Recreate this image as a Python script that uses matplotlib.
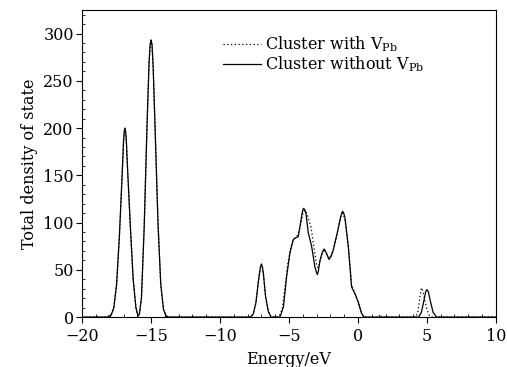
import matplotlib
matplotlib.use('Agg')
import matplotlib.pyplot as plt
from matplotlib.ticker import MultipleLocator

plt.rcParams['font.family'] = 'DejaVu Serif'
plt.rcParams['mathtext.fontset'] = 'dejavuserif'

# energy (eV) and total DOS
e_without = [-20.0, -18.2, -17.9, -17.7, -17.5, -17.3, -17.1, -17.0, -16.95, -16.9, -16.85, -16.8,
             -16.7, -16.5, -16.3, -16.1, -15.95, -15.85, -15.7, -15.5, -15.3, -15.15, -15.07,
             -15.0, -14.93, -14.85, -14.7, -14.5, -14.3, -14.1, -13.9, -13.7,
             -7.8, -7.6, -7.4, -7.2, -7.07, -7.0, -6.93, -6.85, -6.7, -6.5, -6.3,
             -5.65, -5.4, -5.17, -4.93, -4.69, -4.5, -4.33, -4.2, -4.05, -3.96, -3.87, -3.77,
             -3.6, -3.36, -3.12, -3.0, -2.95, -2.88, -2.75, -2.6, -2.46, -2.3, -2.1, -1.95,
             -1.79, -1.5, -1.25, -1.17, -1.11, -1.03, -0.94, -0.7, -0.46, -0.3, -0.22, 0.02,
             0.27, 0.43,
             4.4, 4.6, 4.75, 4.9, 4.95, 5.0, 5.05, 5.1, 5.25, 5.45, 5.7, 10.0]
dos_without = [0, 0, 2, 10, 35, 85, 150, 185, 196, 200, 196, 188,
               155, 95, 40, 10, 1, 3, 20, 95, 200, 268, 288,
               293, 288, 265, 195, 100, 35, 8, 1, 0,
               0, 3, 15, 40, 53, 56, 53, 45, 22, 6, 0,
               0, 11, 43, 68, 82, 84, 85, 96, 110, 115, 114, 110,
               89, 75, 53, 47, 45, 48, 60, 68, 72, 68, 61, 64,
               71, 89, 106, 110, 112, 110, 105, 75, 32, 27, 25, 16,
               4, 0,
               0, 5, 15, 26, 28, 29, 28, 27, 17, 5, 0, 0]

e_with = [-20.0, -18.2, -17.9, -17.7, -17.5, -17.3, -17.1, -17.0, -16.95, -16.9, -16.85, -16.8,
          -16.7, -16.5, -16.3, -16.1, -15.95, -15.85, -15.7, -15.5, -15.3, -15.15, -15.07,
          -15.0, -14.93, -14.85, -14.7, -14.5, -14.3, -14.1, -13.9, -13.7,
          -7.8, -7.6, -7.4, -7.2, -7.07, -7.0, -6.93, -6.85, -6.7, -6.5, -6.3,
          -5.75, -5.5, -5.3, -5.1, -4.9, -4.7, -4.4, -4.2, -3.95, -3.8, -3.6, -3.4, -3.2,
          -3.0, -2.9, -2.7, -2.45, -2.1, -1.8, -1.5, -1.25, -1.1, -0.95, -0.7, -0.46, -0.2,
          0.0, 0.25, 0.45, 1.5, 1.6, 1.7,
          4.2, 4.35, 4.5, 4.6, 4.7, 4.85, 5.0, 5.2, 5.4, 10.0]
dos_with = [0, 0, 2, 10, 35, 85, 150, 185, 196, 200, 196, 188,
            155, 95, 40, 10, 1, 3, 20, 95, 200, 268, 288,
            293, 288, 265, 195, 100, 35, 8, 1, 0,
            0, 3, 15, 40, 53, 56, 53, 45, 22, 6, 0,
            0, 8, 30, 55, 72, 82, 86, 95, 112, 113, 105, 95, 75,
            55, 52, 62, 72, 62, 70, 89, 106, 110, 104, 75, 34, 24,
            16, 4, 0, 0, 3, 0,
            0, 6, 22, 31, 28, 18, 8, 1, 0, 0]

fig = plt.figure(figsize=(5.07, 3.67), dpi=100)
ax = fig.add_axes([0.162, 0.136, 0.816, 0.837])

ax.plot(e_with, dos_with, color='black', linestyle=(0, (1, 2)), linewidth=0.9,
        label=r'Cluster with V$_{\rm Pb}$')
ax.plot(e_without, dos_without, color='black', linestyle='-', linewidth=0.9,
        label=r'Cluster without V$_{\rm Pb}$')

ax.set_xlim(-20, 10)
ax.set_ylim(0, 325)
ax.xaxis.set_major_locator(MultipleLocator(5))
ax.xaxis.set_minor_locator(MultipleLocator(1))
ax.yaxis.set_major_locator(MultipleLocator(50))
ax.yaxis.set_minor_locator(MultipleLocator(10))
ax.tick_params(which='major', direction='out', length=4, width=0.8, labelsize=11.5)
ax.tick_params(axis='y', which='major', pad=2)
ax.tick_params(axis='x', which='major', pad=4)
ax.tick_params(which='minor', direction='in', length=2.5, width=0.6)

ax.set_xlabel('Energy/eV', fontsize=11.5, labelpad=4)
ax.set_ylabel('Total density of state', fontsize=11.5, labelpad=4)

ax.legend(loc='upper left', bbox_to_anchor=(0.325, 0.94), frameon=False, fontsize=11.5,
          handlelength=2.4, handletextpad=0.25, labelspacing=0.0, borderaxespad=0)

fig.savefig('out.png', dpi=100)
